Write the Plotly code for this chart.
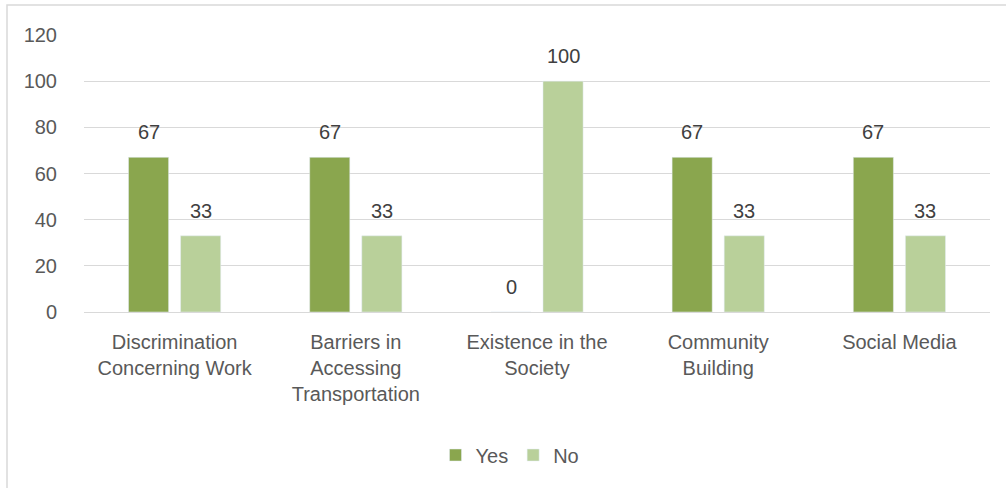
import plotly.graph_objects as go

categories = ["Discrimination<br>Concerning Work", "Barriers in<br>Accessing<br>Transportation",
              "Existence in the<br>Society", "Community<br>Building", "Social Media"]
yes_values = [67, 67, 0, 67, 67]
no_values = [33, 33, 100, 33, 33]
y_ticks = [0, 20, 40, 60, 80, 100, 120]

DARK = "#8AA64E"
LIGHT = "#B9D09A"
FONT = "Liberation Sans, Arial, sans-serif"
TXT = "#595959"

W, H = 1006, 488
L, R, T, B = 84, 16, 35, 176
pw, ph = W - L - R, H - T - B

fig = go.Figure()
fig.add_trace(go.Bar(name="Yes", x=categories, y=yes_values, marker_color=DARK))
fig.add_trace(go.Bar(name="No", x=categories, y=no_values, marker_color=LIGHT))

for vals, shift in ((yes_values, -26), (no_values, 26)):
    for c, v in zip(categories, vals):
        fig.add_annotation(x=c, y=v, text=str(v), showarrow=False, xshift=shift,
                           yanchor="bottom", yshift=12,
                           font=dict(family=FONT, size=20, color="#404040"))

def px_x(p):
    return (p - L) / pw

def px_y(p):
    return (H - B - p) / ph

fig.add_shape(type="rect", xref="paper", yref="paper",
              x0=px_x(7), x1=px_x(1012), y0=px_y(494), y1=px_y(5),
              line=dict(color="#D9D9D9", width=1.5), fillcolor="rgba(0,0,0,0)", layer="below")

fig.update_layout(
    width=W, height=H,
    margin=dict(l=L, r=R, t=T, b=B, pad=0),
    paper_bgcolor="white", plot_bgcolor="white",
    barmode="group", bargap=0.425, bargroupgap=0.23,
    font=dict(family=FONT, size=20, color=TXT),
    showlegend=True,
    legend=dict(orientation="h", x=px_x(510), xanchor="center", y=px_y(455), yanchor="middle",
                font=dict(family=FONT, size=20, color=TXT), itemwidth=30, traceorder="normal"),
    xaxis=dict(showgrid=False, showline=True, linecolor="#D9D9D9", linewidth=1,
               ticks="outside", ticklen=12, tickcolor="rgba(0,0,0,0)",
               tickfont=dict(family=FONT, size=20, color=TXT)),
    yaxis=dict(range=[0, 120], tickvals=y_ticks, showgrid=True, gridcolor="#D9D9D9", gridwidth=1,
               zeroline=False, showline=False, ticks="outside", ticklen=22,
               tickcolor="rgba(0,0,0,0)", tickfont=dict(family=FONT, size=20, color=TXT)),
)

fig.write_html("out.html")
